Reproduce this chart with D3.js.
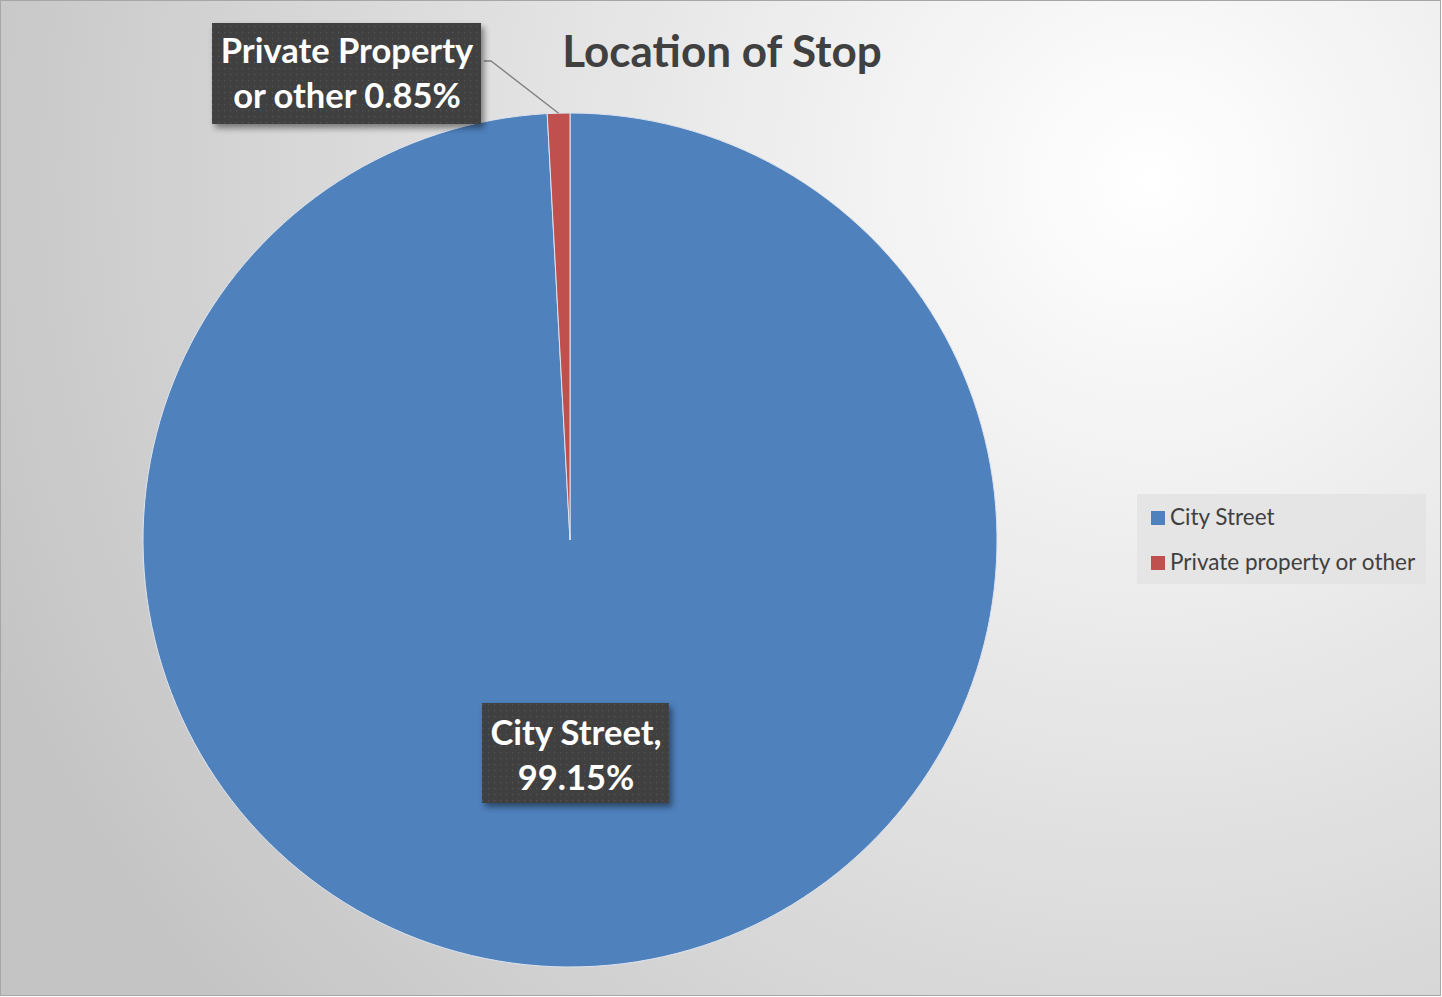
<!DOCTYPE html>
<html><head><meta charset="utf-8">
<script src="https://cdn.jsdelivr.net/npm/d3@7"></script>
<style>body{margin:0;background:#fff}svg{display:block}</style>
</head><body>
<script>
const categories = ["City Street", "Private property or other"];
const values = [99.15, 0.85];
const colors = ["#4F81BD", "#C0504D"];
const dataLabels = [["City Street,", "99.15%"], ["Private Property", "or other 0.85%"]];
const title = "Location of Stop";

const W = 1442, H = 997;
const svg = d3.select("body").append("svg").attr("width", W).attr("height", H);
const defs = svg.append("defs");
const rg = defs.append("radialGradient").attr("id", "bg").attr("gradientUnits", "userSpaceOnUse")
  .attr("cx", 1150).attr("cy", 180).attr("r", 1250);
rg.append("stop").attr("offset", "0").attr("stop-color", "#ffffff");
rg.append("stop").attr("offset", "0.35").attr("stop-color", "#ebebeb");
rg.append("stop").attr("offset", "1").attr("stop-color", "#c4c4c4");
const pat = defs.append("pattern").attr("id", "dots").attr("patternUnits", "userSpaceOnUse").attr("width", 6).attr("height", 6);
pat.append("rect").attr("width", 6).attr("height", 6).attr("fill", "#404040");
pat.append("rect").attr("x", 2).attr("y", 2).attr("width", 1.2).attr("height", 1.2).attr("fill", "#565656");
const sh = defs.append("filter").attr("id", "shadow").attr("x", "-20%").attr("y", "-20%").attr("width", "140%").attr("height", "150%");
sh.append("feDropShadow").attr("dx", 3).attr("dy", 4).attr("stdDeviation", 3).attr("flood-color", "#000").attr("flood-opacity", 0.45);

svg.append("rect").attr("x", 0.5).attr("y", 0.5).attr("width", W - 2).attr("height", H - 2)
  .attr("fill", "url(#bg)").attr("stroke", "#a6a6a6").attr("stroke-width", 1);

svg.append("text").attr("x", 722).attr("y", 67).attr("text-anchor", "middle")
  .attr("font-family", "Lato, 'Open Sans', sans-serif").attr("font-weight", 700).attr("font-size", 44)
  .attr("fill", "#404040").text(title);

const cx = 570, cy = 540, R = 427;
const pie = d3.pie().sort(null).value(d => d)(values);
const arc = d3.arc().innerRadius(0).outerRadius(R);
const g = svg.append("g").attr("transform", `translate(${cx},${cy})`);
g.selectAll("path").data(pie).join("path").attr("d", arc)
  .attr("fill", (d, i) => colors[i]).attr("stroke", "#dce3ee").attr("stroke-width", 1);

// leader line for small slice
const small = pie[1];
const midA = (small.startAngle + small.endAngle) / 2;
const px = cx + Math.sin(midA) * R, py = cy - Math.cos(midA) * R;
svg.append("polyline").attr("points", `484,61 491,61 ${px},${py}`)
  .attr("fill", "none").attr("stroke", "#7f7f7f").attr("stroke-width", 1.3);

function labelBox(x, y, w, h, lines, tx, ty) {
  const lg = svg.append("g");
  lg.append("rect").attr("x", x).attr("y", y).attr("width", w).attr("height", h)
    .attr("fill", "url(#dots)").attr("filter", "url(#shadow)");
  lines.forEach((t, i) => {
    lg.append("text").attr("x", tx).attr("y", ty + i * 45).attr("text-anchor", "middle")
      .attr("font-family", "Lato, 'Open Sans', sans-serif").attr("font-weight", 700).attr("font-size", 34.5)
      .attr("fill", "#ffffff").text(t);
  });
}
labelBox(212, 23, 269, 101, dataLabels[1], 347, 63);
labelBox(482, 703, 187, 100, dataLabels[0], 576, 745);

// legend
const lgX = 1137, lgY = 494;
svg.append("rect").attr("x", lgX).attr("y", lgY).attr("width", 289).attr("height", 90)
  .attr("fill", "#e3e3e3").attr("opacity", 0.9);
categories.forEach((c, i) => {
  const yy = lgY + 17 + i * 45;
  svg.append("rect").attr("x", 1151).attr("y", yy).attr("width", 14).attr("height", 14).attr("fill", colors[i]);
  svg.append("text").attr("x", 1170).attr("y", yy + 14).attr("font-family", "Lato, 'Open Sans', sans-serif")
    .attr("font-size", 22.5).attr("fill", "#404040").text(c);
});
</script>
</body></html>
